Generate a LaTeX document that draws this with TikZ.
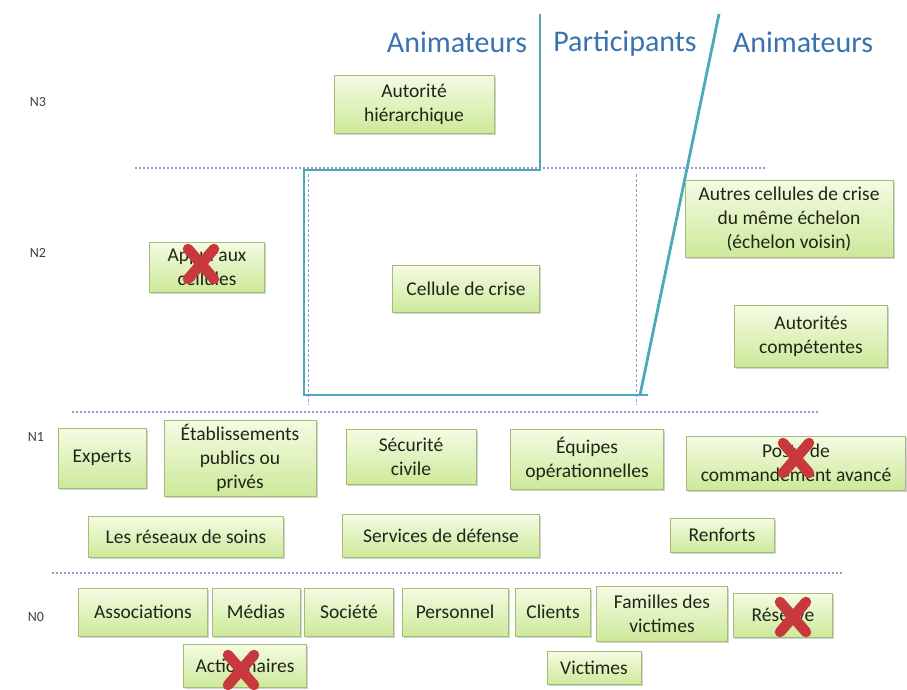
\documentclass[tikz,border=0pt]{standalone}
\usepackage{fontspec}
\setmainfont{Carlito}
\usetikzlibrary{shadows}
\definecolor{boxtop}{HTML}{F4FBE3}
\definecolor{boxbot}{HTML}{CDE99A}
\definecolor{boxdraw}{HTML}{A3BC78}
\definecolor{boxtext}{HTML}{1F2618}
\definecolor{tealline}{HTML}{4BA9B8}
\definecolor{headblue}{HTML}{3A72B0}
\definecolor{dotline}{HTML}{959BC6}
\definecolor{crossred}{HTML}{C8393D}
\tikzset{
  gbox/.style={draw=boxdraw, line width=0.8pt, top color=boxtop, bottom color=boxbot,
    drop shadow={opacity=0.35, shadow xshift=1.5pt, shadow yshift=-1.5pt},
    align=center, text=boxtext, font=\fontsize{19.5}{24}\selectfont, inner sep=2pt},
  head/.style={text=headblue, font=\fontsize{30}{34}\selectfont},
  lvl/.style={text=black!75, font=\fontsize{14}{16}\selectfont},
  sep/.style={dotline, line width=1.2pt, dash pattern=on 2pt off 2pt},
  tline/.style={tealline, line width=2.8pt},
  innerdash/.style={dotline, line width=0.7pt, dash pattern=on 3pt off 2pt},
  redx/.style={crossred, line width=10.5pt, line cap=round}
}
\begin{document}
\begin{tikzpicture}[x=1pt,y=-1pt]
\useasboundingbox (0,0) rectangle (907,689);
% headers
\node[head] (h1) at (457,42) {Animateurs};
\node[head] (h2) at (625,44) {Participants};
\node[head] (h3) at (803,42) {Animateurs};
% level labels
\node[lvl] (n3) at (38,102) {N3};
\node[lvl] (n2) at (38,253) {N2};
\node[lvl] (n1) at (36,437) {N1};
\node[lvl] (n0) at (36,617) {N0};
% separators
\draw[sep] (135,168) -- (765,168);
\draw[sep] (72,412) -- (820,412);
\draw[sep] (52,573) -- (843,573);
% inner dashed frame
\draw[innerdash] (308,174) -- (308,405);
\draw[innerdash] (636,174) -- (636,405);
% teal bracket
\draw[tline] (540,14) -- (540,170) -- (304,170) -- (304,395) -- (648,395);
\draw[tline] (640,395) -- (719,14);
% boxes
\node[gbox, minimum width=160pt, minimum height=58pt] (ah) at (414,104) {Autorité\\hiérarchique};
\node[gbox, minimum width=115pt, minimum height=50pt] (app) at (207,267) {Appui aux\\cellules};
\node[gbox, minimum width=147pt, minimum height=47pt] (cc) at (466,289) {Cellule de crise};
\node[gbox, minimum width=208pt, minimum height=77pt] (ac) at (789,219) {Autres cellules de crise\\du même échelon\\(échelon voisin)};
\node[gbox, minimum width=153pt, minimum height=62pt] (acomp) at (811,336) {Autorités\\compétentes};
\node[gbox, minimum width=88pt, minimum height=60pt] (exp) at (102,458) {Experts};
\node[gbox, minimum width=152pt, minimum height=76pt] (etab) at (240,458) {Établissements\\publics ou\\privés};
\node[gbox, minimum width=130pt, minimum height=55pt] (sec) at (411,457) {Sécurité\\civile};
\node[gbox, minimum width=153pt, minimum height=60pt] (equ) at (587,459) {Équipes\\opérationnelles};
\node[gbox, minimum width=219pt, minimum height=54pt] (pca) at (796,463) {Poste de\\commandement avancé};
\node[gbox, minimum width=195pt, minimum height=41pt] (res) at (186,537) {Les réseaux de soins};
\node[gbox, minimum width=197pt, minimum height=43pt] (def) at (441,536) {Services de défense};
\node[gbox, minimum width=104pt, minimum height=34pt] (ren) at (722,535) {Renforts};
\node[gbox, minimum width=129pt, minimum height=48pt] (ass) at (143,612) {Associations};
\node[gbox, minimum width=88pt, minimum height=48pt] (med) at (256,612) {Médias};
\node[gbox, minimum width=89pt, minimum height=48pt] (soc) at (349,612) {Société};
\node[gbox, minimum width=106pt, minimum height=48pt] (per) at (455,612) {Personnel};
\node[gbox, minimum width=75pt, minimum height=48pt] (cli) at (553,612) {Clients};
\node[gbox, minimum width=131pt, minimum height=55pt] (fam) at (662,614) {Familles des\\victimes};
\node[gbox, minimum width=99pt, minimum height=44pt] (rsv) at (783,615) {Réserve};
\node[gbox, minimum width=123pt, minimum height=43pt] (act) at (245,666) {Actionnaires};
\node[gbox, minimum width=94pt, minimum height=33pt] (vic) at (594,668) {Victimes};
% red crosses
\foreach \n/\dx/\dy in {app/-6/-3, pca/0/-5, rsv/10/2, act/-4/4}{
  \draw[redx] ([shift={(\dx-13,\dy-15)}]\n.center) -- ([shift={(\dx+13,\dy+15)}]\n.center);
  \draw[redx] ([shift={(\dx+13,\dy-15)}]\n.center) -- ([shift={(\dx-13,\dy+15)}]\n.center);
}
\end{tikzpicture}
\end{document}
